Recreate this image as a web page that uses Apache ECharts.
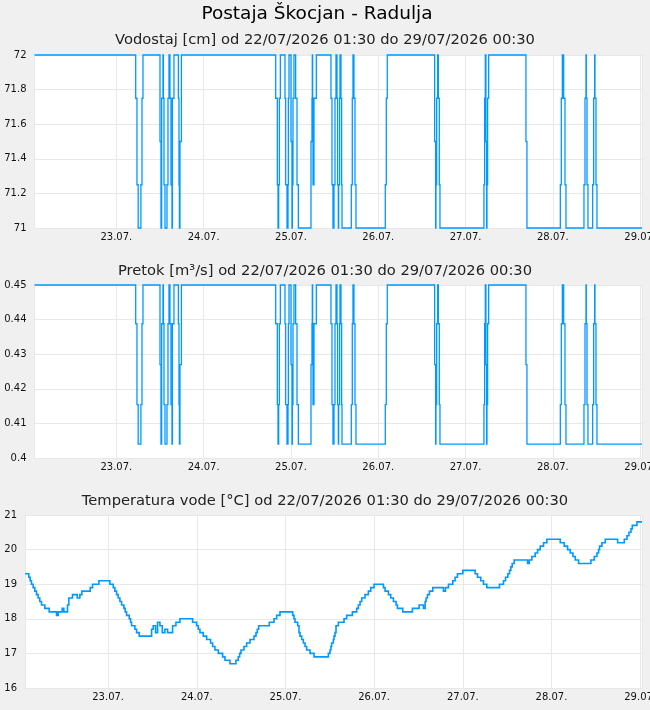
<!DOCTYPE html>
<html><head><meta charset="utf-8">
<script src="https://cdn.jsdelivr.net/npm/echarts@6/dist/echarts.min.js"></script>
<style>html,body{margin:0;padding:0;background:#f0f0f0}#c{width:650px;height:710px}</style>
</head><body><div id="c"></div>
<script>
const mainTitle = 'Postaja Škocjan - Radulja';
const panelTitles = [
  'Vodostaj [cm] od 22/07/2026 01:30 do 29/07/2026 00:30',
  'Pretok [m³/s] od 22/07/2026 01:30 do 29/07/2026 00:30',
  'Temperatura vode [°C] od 22/07/2026 01:30 do 29/07/2026 00:30'
];
// period shown, in hours after 22/07/2026 00:00
const periodStartHour = 1.5;
const periodEndHour = 168.5;
// hours (after 22/07/2026 00:00) at which level / discharge readings change
const levelHours = [1.5,29.32,29.67,30.0,30.75,31.05,31.32,36.0,36.27,36.46,36.82,36.93,37.1,37.37,37.92,38.19,38.47,38.74,39.02,39.29,39.4,39.84,41.05,41.22,41.33,41.49,41.88,
  67.8,68.25,68.44,68.62,68.8,69.08,70.36,70.54,70.91,71.19,71.28,71.46,72.01,72.29,72.38,72.56,72.83,73.29,73.66,74.03,77.51,77.78,77.87,77.96,78.06,78.33,78.97,
  83.0,83.28,83.55,83.83,84.1,84.38,84.65,84.83,85.02,85.11,85.38,85.48,85.75,85.93,86.03,88.59,88.86,89.05,89.32,89.6,89.87,97.93,98.21,98.48,
  111.5,111.77,111.86,112.05,112.32,112.51,112.78,112.96,125.05,125.24,125.42,125.6,125.79,125.88,126.06,126.34,136.6,136.87,
  146.05,146.32,146.6,146.96,147.33,147.6,152.55,152.83,153.1,153.19,153.38,153.65,154.93,155.21,155.48,155.57,155.85,156.12,168.5];
const vodostaj = [72,71.75,71.25,71,71.25,71.75,72,71.5,71,71.75,72,71.75,71.25,71,71.25,71.75,72,71.75,71.25,71,71.75,72,71.75,71.25,71,71.5,72,
  71.75,71.25,71,71.25,71.75,72,71.75,71.25,71,71.25,71.75,72,71.5,71,71.25,71.75,72,71.75,71.25,71,71.5,71.75,72,71.75,71.25,71.75,72,
  71.75,71.25,71,71.25,71.75,72,71.75,71.25,71,71.25,71.75,72,71.75,71.25,71,71.25,71.75,72,71.75,71.25,71,71.25,71.75,72,
  71.5,71,71.25,71.75,72,71.75,71.25,71,71.25,71.75,72,71.5,71,71.25,71.75,72,71.5,71,
  71.25,71.75,72,71.75,71.25,71,71.25,71.75,72,71.75,71.25,71,71.25,71.75,72,71.75,71.25,71,71];
const pretok = [0.45,0.4388,0.4154,0.404,0.4154,0.4388,0.45,0.427,0.404,0.4388,0.45,0.4388,0.4154,0.404,0.4154,0.4388,0.45,0.4388,0.4154,0.404,0.4388,0.45,0.4388,0.4154,0.404,0.427,0.45,
  0.4388,0.4154,0.404,0.4154,0.4388,0.45,0.4388,0.4154,0.404,0.4154,0.4388,0.45,0.427,0.404,0.4154,0.4388,0.45,0.4388,0.4154,0.404,0.427,0.4388,0.45,0.4388,0.4154,0.4388,0.45,
  0.4388,0.4154,0.404,0.4154,0.4388,0.45,0.4388,0.4154,0.404,0.4154,0.4388,0.45,0.4388,0.4154,0.404,0.4154,0.4388,0.45,0.4388,0.4154,0.404,0.4154,0.4388,0.45,
  0.427,0.404,0.4154,0.4388,0.45,0.4388,0.4154,0.404,0.4154,0.4388,0.45,0.427,0.404,0.4154,0.4388,0.45,0.427,0.404,
  0.4154,0.4388,0.45,0.4388,0.4154,0.404,0.4154,0.4388,0.45,0.4388,0.4154,0.404,0.4154,0.4388,0.45,0.4388,0.4154,0.404,0.404];
// hours (after 22/07/2026 00:00) at which the water temperature reading changes
const tempHours = [1.5,2.53,2.9,3.25,3.7,4.15,4.6,5.06,5.5,5.96,6.86,8.04,10.03,10.48,11.56,12.01,13.0,13.37,14.36,15.63,16.35,16.89,19.15,19.78,21.5,
  24.48,25.38,25.83,26.28,26.74,27.19,27.64,28.27,28.63,28.99,29.71,30.07,30.34,31.25,31.7,32.42,35.76,36.21,36.84,37.38,38.02,38.65,39.37,40.09,41.44,42.35,43.43,
  46.87,47.95,48.4,48.85,49.75,50.66,51.74,52.28,52.91,53.82,54.99,55.62,56.98,58.6,59.23,59.6,59.96,60.77,61.49,62.4,63.48,64.02,64.38,64.74,67.63,68.89,69.61,70.52,
  73.95,74.31,74.58,75.3,75.66,75.93,76.39,76.84,77.29,77.74,78.65,79.73,83.61,84.06,84.3,84.5,84.96,85.14,85.41,85.68,86.32,87.85,88.57,90.11,91.28,91.73,92.19,92.64,93.54,94.44,95.08,95.98,
  98.51,98.96,99.86,100.49,101.22,101.94,102.3,103.74,106.36,108.17,109.34,109.8,110.07,110.43,110.97,111.87,114.76,115.3,116.12,117.29,117.92,118.55,120.0,
  123.34,123.97,124.87,125.6,126.5,129.93,131.02,131.56,132.19,132.64,133.0,133.36,133.9,137.52,137.97,138.69,139.59,140.23,140.95,141.85,142.75,
  146.37,147.45,148.35,149.08,149.8,150.43,151.33,154.67,155.58,156.3,156.75,157.02,157.65,158.56,161.9,163.7,164.43,164.97,165.51,165.87,167.14,168.5];
const temperatura = [19.3,19.2,19.1,19.0,18.9,18.8,18.7,18.6,18.5,18.4,18.3,18.2,18.1,18.2,18.3,18.2,18.4,18.6,18.7,18.6,18.7,18.8,18.9,19.0,19.1,
  19.0,18.9,18.8,18.7,18.6,18.5,18.4,18.3,18.2,18.1,18.0,17.9,17.8,17.7,17.6,17.5,17.7,17.8,17.6,17.9,17.8,17.6,17.7,17.6,17.8,17.9,18.0,
  17.9,17.8,17.7,17.6,17.5,17.4,17.3,17.2,17.1,17.0,16.9,16.8,16.7,16.8,16.9,17.0,17.1,17.2,17.3,17.4,17.5,17.6,17.7,17.8,17.9,18.0,18.1,18.2,
  18.1,18.0,17.9,17.8,17.6,17.5,17.4,17.3,17.2,17.1,17.0,16.9,17.0,17.1,17.2,17.3,17.4,17.5,17.6,17.8,17.9,18.0,18.1,18.2,18.3,18.4,18.5,18.6,18.7,18.8,18.9,19.0,
  18.9,18.8,18.7,18.6,18.5,18.4,18.3,18.2,18.3,18.4,18.3,18.5,18.6,18.7,18.8,18.9,18.8,18.9,19.0,19.1,19.2,19.3,19.4,
  19.3,19.2,19.1,19.0,18.9,19.0,19.1,19.2,19.3,19.4,19.5,19.6,19.7,19.6,19.7,19.8,19.9,20.0,20.1,20.2,20.3,
  20.2,20.1,20.0,19.9,19.8,19.7,19.6,19.7,19.8,19.9,20.0,20.1,20.2,20.3,20.2,20.3,20.4,20.5,20.6,20.7,20.8,20.8];
const yAxes = [
  {min: 71, max: 72, interval: 0.2},
  {min: 0.40, max: 0.45, interval: 0.01},
  {min: 16, max: 21, interval: 1}
];

const base = new Date(2026, 6, 22, 0, 0, 0).getTime();
const toTime = h => base + h * 3600000;

const FONT = 'DejaVu Sans';
const LINE = '#0099ff';
const grids = [
  {left: 34.5, right: 8, top: 55, height: 173},
  {left: 34.5, right: 8, top: 285, height: 173},
  {left: 25, right: 8, top: 515, height: 173}
];
const subTop = [33, 264, 494];

// step line: each reading holds until the next change, drawn through the axis scales
function stepSeries(idx, hours, values, width) {
  return {
    type: 'custom', coordinateSystem: 'cartesian2d', xAxisIndex: idx, yAxisIndex: idx,
    silent: true, clip: false,
    data: [[toTime(hours[0]), values[0]]],
    renderItem: (params, api) => {
      const pts = [api.coord([toTime(hours[0]), values[0]])];
      for (let i = 1; i < hours.length; i++) {
        const t = toTime(hours[i]);
        pts.push(api.coord([t, values[i - 1]]));
        pts.push(api.coord([t, values[i]]));
      }
      return {type: 'polyline', silent: true, shape: {points: pts},
              style: {stroke: LINE, lineWidth: width, fill: null}};
    }
  };
}

const pad = n => (n < 10 ? '0' : '') + n;
const option = {
  backgroundColor: '#f0f0f0',
  animation: false,
  title: [
    {text: mainTitle, left: 317, textAlign: 'center', top: 5, padding: 0,
     textStyle: {fontFamily: FONT, fontSize: 18.5, fontWeight: 'normal', color: '#000'}}
  ].concat(panelTitles.map((t, i) => ({
    text: t, left: 'center', top: subTop[i], padding: 0,
    textStyle: {fontFamily: FONT, fontSize: 14.7, fontWeight: 'normal', color: '#222'}
  }))),
  grid: grids.map(g => Object.assign({backgroundColor: '#fff', show: true, borderWidth: 0,
                                      outerBoundsMode: 'none', containLabel: false}, g)),
  xAxis: grids.map((g, i) => ({
    type: 'time', gridIndex: i,
    min: toTime(periodStartHour), max: toTime(periodEndHour),
    minInterval: 86400000, maxInterval: 86400000,
    axisLine: {show: false}, axisTick: {show: false},
    splitLine: {show: true, lineStyle: {color: '#e8e8e8', width: 1}},
    axisLabel: {
      fontFamily: FONT, fontSize: 10, color: '#111', margin: 4,
      showMinLabel: false, showMaxLabel: false, hideOverlap: false,
      formatter: v => { const d = new Date(v); return pad(d.getDate()) + '.' + pad(d.getMonth() + 1) + '.'; }
    }
  })),
  yAxis: yAxes.map((y, i) => ({
    type: 'value', gridIndex: i, min: y.min, max: y.max, interval: y.interval,
    axisLine: {show: false}, axisTick: {show: false},
    splitLine: {show: true, lineStyle: {color: '#e8e8e8', width: 1}},
    axisLabel: {fontFamily: FONT, fontSize: 10, color: '#111', margin: 8}
  })),
  series: [
    stepSeries(0, levelHours, vodostaj, 1.3),
    stepSeries(1, levelHours, pretok, 1.3),
    stepSeries(2, tempHours, temperatura, 1.6)
  ]
};
const chart = echarts.init(document.getElementById('c'), null, {renderer: 'canvas'});
chart.setOption(option);
</script></body></html>
